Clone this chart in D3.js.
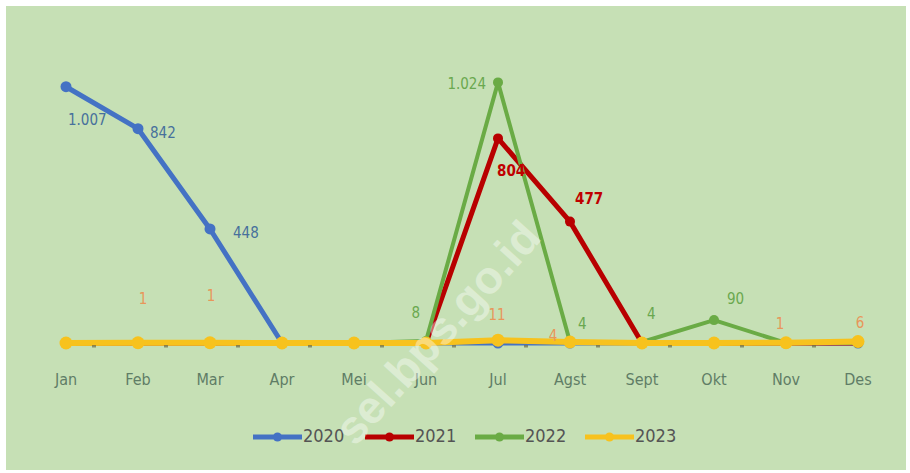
<!DOCTYPE html>
<html><head><meta charset="utf-8">
<script src="https://cdn.jsdelivr.net/npm/d3@7"></script>
<style>html,body{margin:0;padding:0;background:#fff;} svg{display:block;}</style>
</head><body>
<svg id="c" width="910" height="473"></svg>
<script>
const months = ["Jan","Feb","Mar","Apr","Mei","Jun","Jul","Agst","Sept","Okt","Nov","Des"];
const years = ["2020","2021","2022","2023"];
const v2020 = [1007,842,448,0,0,0,0,0,0,0,0,0];
const v2021 = [0,0,0,0,0,0,804,477,0,0,0,0];
const v2022 = [0,0,0,0,0,8,1024,4,4,90,0,0];
const v2023 = [0,1,1,0,0,0,11,4,0,0,1,6];
const fmt = v => d3.format(",")(v).replace(/,/g,".");
const FONT = "'DejaVu Sans Condensed','Liberation Sans Narrow','Arial Narrow',sans-serif";

// label placement offsets (style only): [dx, dy, anchor]
const place = {
  "2020": {0:[2,34,"start"],1:[12,5,"start"],2:[23,5,"start"]},
  "2021": {6:[-1,33,"start"],7:[5,-22,"start"]},
  "2022": {5:[-6,-27,"end"],6:[-12,2,"end"],7:[8,-17,"start"],8:[5,-27,"start"],9:[13,-21,"start"]},
  "2023": {1:[5,-43,"middle"],2:[1,-46,"middle"],6:[-1,-25,"middle"],7:[-17,-5,"middle"],10:[-6,-18,"middle"],11:[2,-18,"middle"]}
};

const svg = d3.select("#c");
svg.append("rect").attr("x",6).attr("y",6).attr("width",900).attr("height",464).attr("fill","#c6e0b5");

const x = d3.scalePoint().domain(months).range([66,858]);
const y = d3.scaleLinear().domain([0,1200]).range([343,37.6]);

const series = [
  {name:"2020", vals:v2020, color:"#4472c4", w:5, r:5.5, lab:"#47709c", bold:false},
  {name:"2021", vals:v2021, color:"#b80000", w:5, r:5, lab:"#c00000", bold:true},
  {name:"2022", vals:v2022, color:"#6aab45", w:4, r:5, lab:"#6aa84f", bold:false},
  {name:"2023", vals:v2023, color:"#f7c21d", w:6, r:6.5, lab:"#e8965a", bold:false}
];

const line = d3.line().x((d,i)=>x(months[i])).y(d=>y(d));
series.forEach(s=>{
  const g = svg.append("g");
  g.append("path").datum(s.vals).attr("d",line).attr("fill","none")
    .attr("stroke",s.color).attr("stroke-width",s.w).attr("stroke-linejoin","round").attr("stroke-linecap","round");
  g.selectAll("circle").data(s.vals).join("circle")
    .attr("cx",(d,i)=>x(months[i])).attr("cy",d=>y(d)).attr("r",s.r).attr("fill",s.color);
});
// small axis marks between categories, drawn on top of the yellow line
svg.append("g").selectAll("rect").data(months.slice(0,-1)).join("rect")
  .attr("x",d=>x(d)+26).attr("y",345).attr("width",4).attr("height",2.5)
  .attr("fill","#6b6b4a").attr("opacity",0.7);

// data labels
series.forEach(s=>{
  const p = place[s.name];
  s.vals.forEach((v,i)=>{
    if(!p[i]) return;
    const [dx,dy,an] = p[i];
    svg.append("text").attr("x",x(months[i])+dx).attr("y",y(v)+dy)
      .attr("text-anchor",an).attr("dominant-baseline","middle")
      .attr("font-family",FONT)
      .attr("font-size",15).attr("font-weight",s.bold?"bold":"normal")
      .attr("fill",s.lab).text(fmt(v));
  });
});

// x-axis labels
svg.append("g").selectAll("text").data(months).join("text")
  .attr("x",d=>x(d)).attr("y",380).attr("text-anchor","middle").attr("dominant-baseline","middle")
  .attr("font-family",FONT).attr("font-size",16)
  .attr("fill","#5f7d66").text(d=>d);

// legend
const legX = [253,365,475,585];
const lg = svg.append("g");
series.forEach((s,i)=>{
  const x0 = legX[i];
  lg.append("line").attr("x1",x0).attr("x2",x0+49).attr("y1",437).attr("y2",437)
    .attr("stroke",s.color).attr("stroke-width",5);
  lg.append("circle").attr("cx",x0+24.5).attr("cy",437).attr("r",4.5).attr("fill",s.color);
  lg.append("text").attr("x",x0+50).attr("y",437).attr("dominant-baseline","middle")
    .attr("font-family",FONT).attr("font-size",18)
    .attr("fill","#545454").text(s.name);
});

// watermark
svg.append("text").attr("transform","translate(440,335) rotate(-48)")
  .attr("text-anchor","middle").attr("dominant-baseline","middle")
  .attr("font-family","'Liberation Sans',Arial,sans-serif").attr("font-weight","bold").attr("font-size",46)
  .attr("fill","#ffffff").attr("opacity",0.4).text("sel.bps.go.id");
</script>
</body></html>
